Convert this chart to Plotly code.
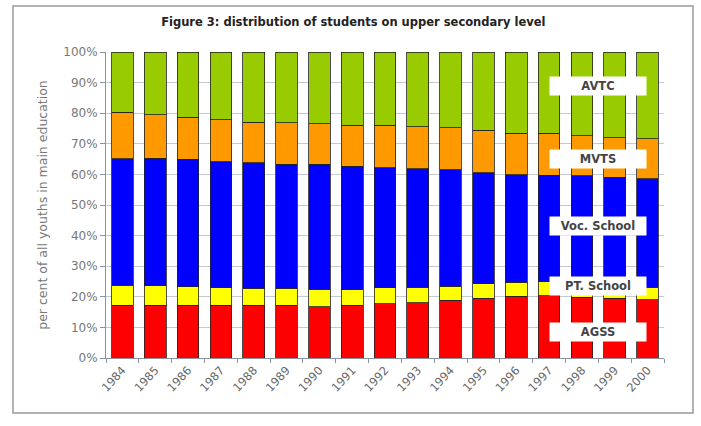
import plotly.graph_objects as go

years = [str(y) for y in range(1984, 2001)]
agss = [17.3, 17.3, 17.3, 17.3, 17.3, 17.3, 16.8, 17.3, 17.8, 18.0, 18.8, 19.6, 20.2, 20.4, 19.8, 19.5, 19.0]
pt_school = [6.5, 6.3, 6.0, 5.7, 5.5, 5.5, 5.6, 5.0, 5.1, 5.2, 4.7, 4.7, 4.6, 4.6, 4.2, 4.1, 4.2]
voc_school = [41.5, 41.6, 41.7, 41.1, 41.0, 40.5, 40.9, 40.4, 39.3, 38.6, 38.1, 36.2, 35.1, 34.7, 35.5, 35.4, 35.4]
mvts = [15.1, 14.3, 13.7, 13.7, 13.2, 13.5, 13.2, 13.3, 13.8, 13.7, 13.7, 13.9, 13.6, 13.8, 13.1, 13.0, 13.0]
avtc = [19.8, 20.5, 21.3, 22.2, 23.0, 23.2, 23.5, 24.0, 24.0, 24.5, 24.7, 25.6, 26.5, 26.5, 27.4, 28.0, 28.4]

series = [
    ("AGSS", agss, "#FF0000", 8.5),
    ("PT. School", pt_school, "#FFFF00", 23.5),
    ("Voc. School", voc_school, "#0000FF", 43.0),
    ("MVTS", mvts, "#FF9900", 65.0),
    ("AVTC", avtc, "#99CC00", 88.9),
]

fig = go.Figure()
for name, vals, col, _ in series:
    fig.add_trace(go.Bar(
        x=years, y=vals, name=name,
        marker=dict(color=col, line=dict(color="#222222", width=0.8)),
        width=0.66,
    ))

font_fam = "DejaVu Sans, Verdana, sans-serif"

for name, _, _, ypos in series:
    fig.add_annotation(
        x=14.5, y=ypos, xref="x", yref="y", text="<b>" + name + "</b>",
        showarrow=False, bgcolor="white", width=92, height=14,
        font=dict(family=font_fam, size=11.5, color="#444444"),
        borderpad=2,
    )

fig.update_layout(
    width=701, height=426,
    barmode="stack", barnorm="percent",
    plot_bgcolor="white", paper_bgcolor="white",
    showlegend=False,
    margin=dict(l=106, r=37, t=52, b=68),
    title=dict(
        text="<b>Figure 3: distribution of students on upper secondary level</b>",
        x=0.504, xanchor="center", y=0.948, yanchor="middle",
        font=dict(family=font_fam, size=11.5, color="#222222"),
    ),
    font=dict(family=font_fam, color="#555555"),
    shapes=[dict(type="rect", xref="paper", yref="paper",
                 x0=-93/558, x1=(693-106)/558, y0=-(413-358)/306, y1=(358-6)/306,
                 line=dict(color="#999999", width=1.5), fillcolor="rgba(0,0,0,0)", layer="below")],
)

fig.update_yaxes(
    range=[0, 100], dtick=10, ticksuffix="%",
    showgrid=True, gridcolor="#c4cad2", gridwidth=1,
    ticks="outside", ticklen=5, tickcolor="#8a94a0",
    showline=True, linecolor="#8a94a0", linewidth=1,
    tickfont=dict(size=12, color="#777777"),
    title=dict(text="per cent of all youths in main education",
               font=dict(size=12.5, color="#777777"), standoff=12),
)
fig.update_xaxes(
    type="category", tickson="boundaries",
    showgrid=False,
    ticks="outside", ticklen=4, tickcolor="#8a94a0",
    showline=True, linecolor="#8a94a0", linewidth=1,
    tickangle=-47, tickfont=dict(size=11.5, color="#666666"),
)

fig.write_html("out.html")
